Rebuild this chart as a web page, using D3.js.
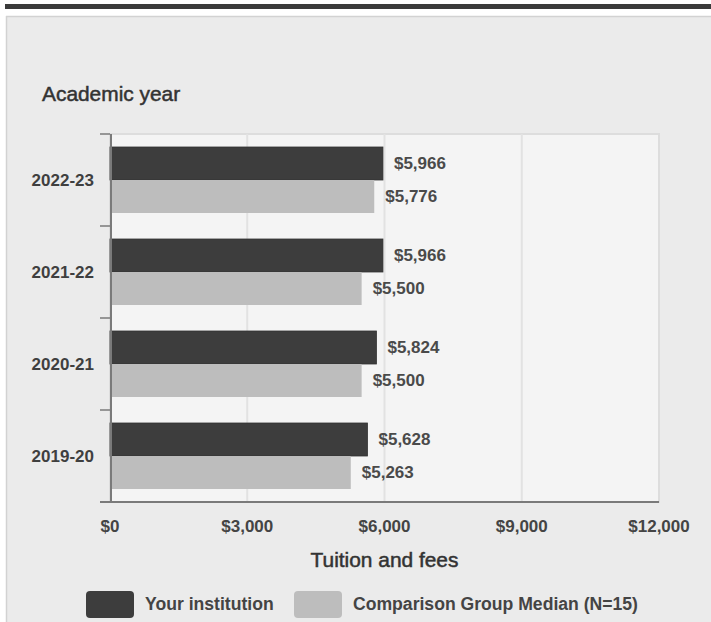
<!DOCTYPE html>
<html>
<head>
<meta charset="utf-8">
<script src="https://cdn.jsdelivr.net/npm/d3@7"></script>
<style>
html,body{margin:0;padding:0;background:#ffffff;}
svg{display:block;}
</style>
</head>
<body>
<script>
const years = ["2022-23", "2021-22", "2020-21", "2019-20"];
const seriesNames = ["Your institution", "Comparison Group Median (N=15)"];
const institution = [5966, 5966, 5824, 5628];
const comparison = [5776, 5500, 5500, 5263];
const xTicks = [0, 3000, 6000, 9000, 12000];
const colors = ["#3d3d3d", "#bdbdbd"];

(function () {
const W = 711, H = 622;
const svg = d3.select("body").append("svg").attr("width", W).attr("height", H);

// top dark strip and panel
svg.append("rect").attr("x", 5).attr("y", 4).attr("width", W - 5).attr("height", 5).attr("fill", "#3b3b3b");
svg.append("rect").attr("x", 6).attr("y", 16).attr("width", W - 6).attr("height", H - 16).attr("fill", "#ebebeb");
svg.append("line").attr("x1", 6.5).attr("x2", 6.5).attr("y1", 16).attr("y2", H).attr("stroke", "#d2d2d2").attr("stroke-width", 1.5);
svg.append("line").attr("x1", 6).attr("x2", W).attr("y1", 16.5).attr("y2", 16.5).attr("stroke", "#d2d2d2").attr("stroke-width", 1.5);

const pLeft = 110, pRight = 659, pTop = 134, pBottom = 502;
const x = d3.scaleLinear().domain([0, 12000]).range([pLeft, pRight]);
const y = d3.scaleBand().domain(years).range([pTop, pBottom]).paddingInner(0.2826).paddingOuter(0.1413);
const sub = d3.scaleBand().domain([0, 1]).range([0, y.bandwidth()]);
const fontF = "'Liberation Sans', Arial, sans-serif";
const fs = 17;

// plot background
svg.append("rect").attr("x", pLeft).attr("y", pTop).attr("width", pRight - pLeft).attr("height", pBottom - pTop)
  .attr("fill", "#f4f4f4").attr("stroke", "#dddddd").attr("stroke-width", 2);

// gridlines
svg.append("g").selectAll("line").data(xTicks.slice(1, -1)).join("line")
  .attr("x1", d => x(d)).attr("x2", d => x(d)).attr("y1", pTop).attr("y2", pBottom)
  .attr("stroke", "#e2e2e2").attr("stroke-width", 2);

// bars
const data = years.map((yr, i) => ({ yr, vals: [institution[i], comparison[i]] }));
const groups = svg.append("g").selectAll("g").data(data).join("g")
  .attr("transform", d => `translate(0,${y(d.yr)})`);
groups.selectAll("rect").data(d => d.vals.map((v, k) => ({ v, k }))).join("rect")
  .attr("x", x(0)).attr("y", d => sub(d.k)).attr("width", d => x(d.v) - x(0)).attr("height", sub.bandwidth())
  .attr("fill", d => colors[d.k]).attr("stroke", d => d.k === 0 ? "#333" : "none").attr("stroke-width", 0.8);
groups.selectAll("text").data(d => d.vals.map((v, k) => ({ v, k }))).join("text")
  .attr("x", d => x(d.v) + 11).attr("y", d => sub(d.k) + sub.bandwidth() / 2).attr("dy", "0.35em")
  .attr("font-family", fontF).attr("font-weight", "bold").attr("font-size", fs)
  .attr("fill", "#4a4a4a").text(d => d3.format("$,")(d.v));

// y axis
const step = y.step();
const boundaries = years.map(yr => y(yr) - step * y.paddingInner() / 2).concat([pBottom]);
svg.append("g").selectAll("line").data(boundaries).join("line")
  .attr("x1", 100).attr("x2", pLeft).attr("y1", d => d).attr("y2", d => d)
  .attr("stroke", "#7a7a7a").attr("stroke-width", 1.5);
svg.append("line").attr("x1", pLeft + 1).attr("x2", pLeft + 1).attr("y1", pTop).attr("y2", pBottom)
  .attr("stroke", "#7a7a7a").attr("stroke-width", 2);
svg.append("g").selectAll("text").data(years).join("text")
  .attr("x", 94).attr("y", d => y(d) + y.bandwidth() / 2).attr("dy", "0.35em").attr("text-anchor", "end")
  .attr("font-family", fontF).attr("font-weight", "bold").attr("font-size", fs).attr("fill", "#3f3f3f")
  .text(d => d);

// x axis
svg.append("line").attr("x1", 100).attr("x2", pRight).attr("y1", pBottom).attr("y2", pBottom)
  .attr("stroke", "#7a7a7a").attr("stroke-width", 2);
svg.append("g").selectAll("text").data(xTicks).join("text")
  .attr("x", d => x(d)).attr("y", 532).attr("text-anchor", "middle")
  .attr("font-family", fontF).attr("font-weight", "bold").attr("font-size", fs).attr("fill", "#444")
  .text(d => d3.format("$,")(d));

// titles
svg.append("text").attr("x", 42).attr("y", 101).attr("font-family", fontF).attr("font-size", 20.9)
  .attr("fill", "#333").attr("stroke", "#333").attr("stroke-width", 0.5).text("Academic year");
svg.append("text").attr("x", (pLeft + pRight) / 2).attr("y", 567).attr("text-anchor", "middle")
  .attr("font-family", fontF).attr("font-size", 20.9).attr("fill", "#333").attr("stroke", "#333").attr("stroke-width", 0.5)
  .text("Tuition and fees");

// legend
const legendX = [86, 294];
const lg = svg.append("g").selectAll("g").data(seriesNames).join("g")
  .attr("transform", (d, i) => `translate(${legendX[i]},591)`);
lg.append("rect").attr("width", 48).attr("height", 27).attr("rx", 4).attr("fill", (d, i) => colors[i]);
lg.append("text").attr("x", 59).attr("y", 18.5).attr("font-family", fontF).attr("font-weight", "bold")
  .attr("font-size", 17.6).attr("fill", "#444").text(d => d);
})();
</script>
</body>
</html>
